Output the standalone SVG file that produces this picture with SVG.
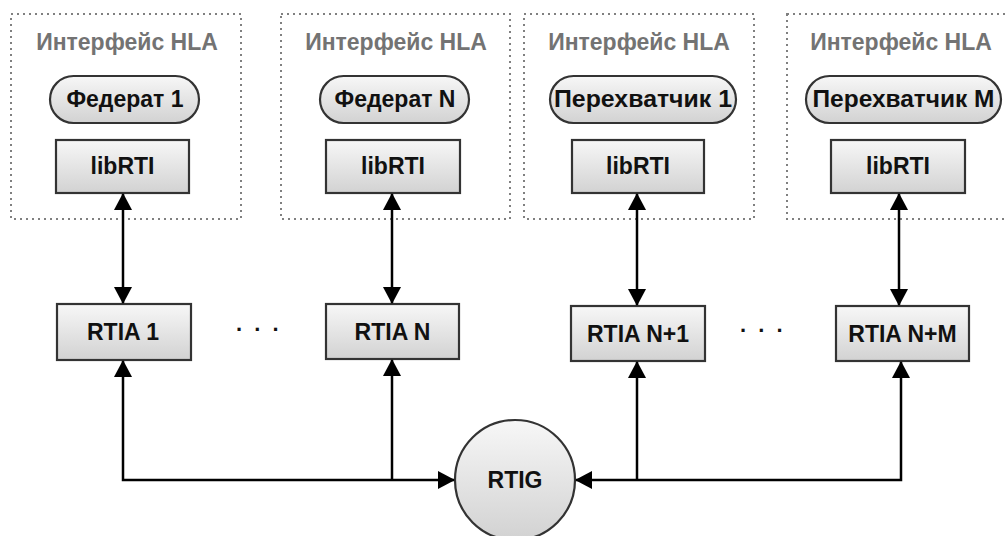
<svg xmlns="http://www.w3.org/2000/svg" width="1007" height="536" viewBox="0 0 1007 536">
  <defs>
    <linearGradient id="fillGrad" x1="0" y1="0" x2="0" y2="1">
      <stop offset="0" stop-color="#f7f7f7"/>
      <stop offset="1" stop-color="#d2d2d2"/>
    </linearGradient>
    <marker id="arrow" viewBox="0 0 17 18" markerWidth="17" markerHeight="18" refX="16" refY="9" markerUnits="userSpaceOnUse" orient="auto-start-reverse">
      <path d="M0,0 L17,9 L0,18 z" fill="#000"/>
    </marker>
    <style>
      .frame { fill: none; stroke: #808080; stroke-width: 2; stroke-dasharray: 2 4; }
      .title { font-family: "Liberation Sans", Arial, sans-serif; font-weight: bold; font-size: 23px; fill: #737373; text-anchor: middle; }
      .shape { fill: url(#fillGrad); stroke: #333; stroke-width: 2.2; }
      .label { font-family: "Liberation Sans", Arial, sans-serif; font-weight: bold; font-size: 23px; fill: #111; text-anchor: middle; }
      .dots { font-family: "Liberation Sans", Arial, sans-serif; font-weight: bold; font-size: 22px; fill: #111; letter-spacing: 3px; }
      .link { fill: none; stroke: #000; stroke-width: 2.5; }
    </style>
  </defs>

  <!-- HLA interface frames -->
  <g id="iface1">
    <rect class="frame" x="11" y="14" width="230" height="205"/>
    <text class="title" x="127" y="50">Интерфейс HLA</text>
  </g>
  <g id="iface2">
    <rect class="frame" x="281" y="14" width="229" height="205"/>
    <text class="title" x="396" y="50">Интерфейс HLA</text>
  </g>
  <g id="iface3">
    <rect class="frame" x="524" y="14" width="230" height="205"/>
    <text class="title" x="639" y="50">Интерфейс HLA</text>
  </g>
  <g id="iface4">
    <rect class="frame" x="787" y="14" width="240" height="205"/>
    <text class="title" x="901" y="50">Интерфейс HLA</text>
  </g>

  <!-- federates and interceptors -->
  <g id="federate1">
    <rect class="shape" x="50" y="76" width="149" height="47" rx="23.5"/>
    <text class="label" x="125" y="107">Федерат 1</text>
  </g>
  <g id="federateN">
    <rect class="shape" x="320" y="76" width="149" height="47" rx="23.5"/>
    <text class="label" x="395" y="107">Федерат N</text>
  </g>
  <g id="interceptor1">
    <rect class="shape" x="550" y="76" width="186" height="47" rx="23.5"/>
    <text class="label" x="643" y="107" textLength="178" lengthAdjust="spacingAndGlyphs">Перехватчик 1</text>
  </g>
  <g id="interceptorM">
    <rect class="shape" x="806" y="76" width="195" height="47" rx="23.5"/>
    <text class="label" x="903.5" y="107" textLength="182" lengthAdjust="spacingAndGlyphs">Перехватчик M</text>
  </g>

  <!-- libRTI blocks -->
  <g id="lib1">
    <rect class="shape" x="56" y="140" width="133" height="53"/>
    <text class="label" x="122.5" y="174">libRTI</text>
  </g>
  <g id="lib2">
    <rect class="shape" x="326" y="140" width="134" height="53"/>
    <text class="label" x="393" y="174">libRTI</text>
  </g>
  <g id="lib3">
    <rect class="shape" x="572" y="140" width="132" height="53"/>
    <text class="label" x="638" y="174">libRTI</text>
  </g>
  <g id="lib4">
    <rect class="shape" x="831" y="140" width="134" height="53"/>
    <text class="label" x="898" y="174">libRTI</text>
  </g>

  <!-- RTIA processes -->
  <g id="rtia1">
    <rect class="shape" x="57" y="304" width="134" height="56"/>
    <text class="label" x="123" y="340">RTIA 1</text>
  </g>
  <g id="rtiaN">
    <rect class="shape" x="326" y="304" width="133" height="55"/>
    <text class="label" x="392.5" y="340">RTIA N</text>
  </g>
  <g id="rtiaN1">
    <rect class="shape" x="571" y="306" width="134" height="55"/>
    <text class="label" x="638" y="342">RTIA N+1</text>
  </g>
  <g id="rtiaNM">
    <rect class="shape" x="836" y="306" width="133" height="55"/>
    <text class="label" x="902.5" y="342">RTIA N+M</text>
  </g>

  <!-- ellipsis between RTIA groups -->
  <g id="ellipsis1">
    <text class="dots" x="236" y="331">. . .</text>
  </g>
  <g id="ellipsis2">
    <text class="dots" x="740" y="332">. . .</text>
  </g>

  <!-- RTIG server -->
  <g id="rtig">
    <circle class="shape" cx="515" cy="480" r="60"/>
    <text class="label" x="515" y="488">RTIG</text>
  </g>

  <!-- connectors -->
  <g id="connectors">
    <line class="link" x1="123" y1="194" x2="123" y2="303" marker-start="url(#arrow)" marker-end="url(#arrow)"/>
    <line class="link" x1="392" y1="194" x2="392" y2="303" marker-start="url(#arrow)" marker-end="url(#arrow)"/>
    <line class="link" x1="637" y1="194" x2="637" y2="305" marker-start="url(#arrow)" marker-end="url(#arrow)"/>
    <line class="link" x1="899" y1="194" x2="899" y2="305" marker-end="url(#arrow)" marker-start="url(#arrow)"/>

    <path class="link" d="M123,361 V480 H454" marker-start="url(#arrow)" marker-end="url(#arrow)"/>
    <path class="link" d="M392,360 V480"  marker-start="url(#arrow)"/>
    <path class="link" d="M901,362 V480 H576" marker-start="url(#arrow)" marker-end="url(#arrow)"/>
    <path class="link" d="M637,362 V480" marker-start="url(#arrow)"/>
  </g>
</svg>
